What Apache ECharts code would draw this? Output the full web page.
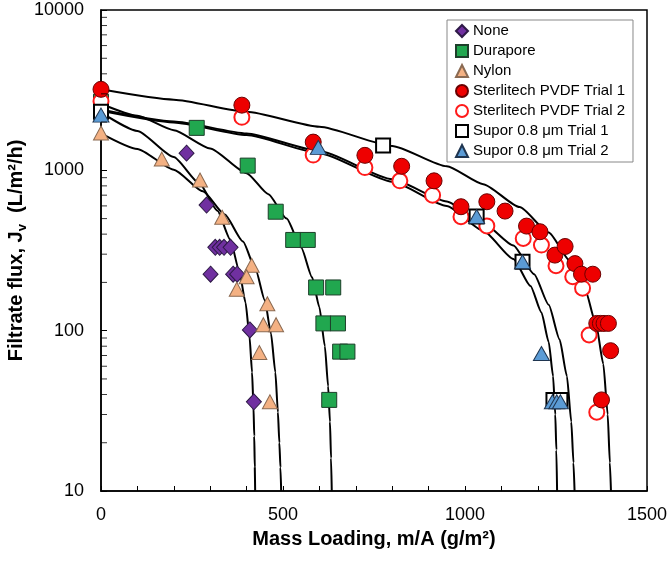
<!DOCTYPE html>
<html>
<head>
<meta charset="utf-8">
<script src="https://cdn.jsdelivr.net/npm/echarts@6/dist/echarts.min.js"></script>
<style>
html,body{margin:0;padding:0;background:#fff}
#chart{width:669px;height:566px}
</style>
</head>
<body>
<div id="chart"></div>
<script>
// measured points, [mass loading g/m2, flux L/m2/h]
var noneData = [[235,1280],[290,607],[314,331],[326,331],[338,331],[356,331],[301,225],[363,225],[374,225],[409,101],[420,36]];
var duraporeData = [[0,2680],[263,1840],[403,1070],[480,552],[528,368],[568,368],[591,186],[638,186],[611,111],[651,111],[657,74],[677,74],[627,37]];
var nylonData = [[0,1710],[167,1175],[272,870],[333,510],[414,256],[400,217],[373,181],[457,147],[446,109],[481,109],[435,73],[464,36]];
var pvdf1Data = [[0,3200],[387,2550],[583,1500],[725,1240],[826,1060],[915,860],[989,593],[1060,637],[1110,557],[1169,449],[1206,414],[1247,296],[1275,335],[1302,262],[1320,225],[1351,225],[1362,111],[1372,111],[1382,111],[1394,111],[1400,75],[1375,37]];
var pvdf2Data = [[0,2700],[387,2140],[583,1245],[725,1040],[821,860],[911,700],[989,514],[1060,450],[1160,376],[1210,342],[1250,254],[1296,217],[1323,184],[1341,94],[1362,31]];
var supor1Data = [[0,2320],[775,1430],[1032,515],[1158,269],[1243,37],[1262,37]];
var supor2Data = [[0,2210],[597,1390],[1032,515],[1158,269],[1210,72],[1240,36],[1252,36],[1262,36]];

// fitted model lines
var fitPvdf = [[0,3200],[200,2760],[400,2320],[600,1870],[800,1420],[950,1060],[1050,820],[1150,590],[1230,410],[1290,270],[1330,180],[1360,110],[1380,62],[1392,30],[1398,15],[1401,10]];
var fitSupor1 = [[0,2400],[200,2020],[400,1700],[600,1320],[800,880],[950,640],[1050,470],[1133,340],[1190,225],[1230,145],[1260,88],[1280,52],[1292,27],[1298,15],[1301,10]];
var fitSupor2 = [[0,2350],[200,1990],[400,1660],[600,1280],[800,850],[950,600],[1050,420],[1133,280],[1180,190],[1210,130],[1230,85],[1242,52],[1248,30],[1251,18],[1253,10]];
var fitDurapore = [[0,2600],[100,2190],[200,1780],[300,1370],[400,960],[460,710],[510,500],[550,330],[580,215],[600,140],[615,80],[624,45],[629,27],[632,16],[634,10]];
var fitNylon = [[0,1700],[100,1360],[200,1010],[280,740],[340,530],[390,360],[425,240],[450,155],[467,96],[479,55],[486,31],[490,20],[493,14],[495,10]];
var fitNone = [[0,2300],[100,1760],[200,1210],[270,830],[320,560],[355,370],[380,235],[397,150],[408,92],[415,55],[419,33],[421,22],[422.5,14],[423.5,10]];

var legendNames = ['None','Durapore','Nylon','Sterlitech PVDF Trial 1','Sterlitech PVDF Trial 2','Supor 0.8 μm Trial 1','Supor 0.8 μm Trial 2'];
var yMinorTicks = [20,30,40,50,60,70,80,90,200,300,400,500,600,700,800,900,2000,3000,4000,5000,6000,7000,8000,9000];

var font = 'Liberation Sans';

function scatterSeries(name, data, symbol, size, fill, border, bw, z){
    return {
        name: name,
        type: 'scatter',
        data: data,
        symbol: symbol,
        symbolSize: size,
        z: z,
        itemStyle: {color: fill, borderColor: border, borderWidth: bw, opacity: 1}
    };
}

function fitSeries(data){
    return {
        type: 'line',
        data: data,
        showSymbol: false,
        smooth: 0.2,
        smoothMonotone: 'x',
        silent: true,
        z: 1,
        lineStyle: {color: '#000', width: 2}
    };
}

// log-spaced minor ticks on the y axis (2..9 in each decade), drawn as short dashes
function minorTickSeries(){
    return {
        type: 'scatter',
        silent: true,
        clip: false,
        z: 10,
        data: yMinorTicks.map(function(v){ return [0, v]; }),
        symbol: 'rect',
        symbolSize: [6, 1],
        symbolOffset: [3, 0],
        itemStyle: {color: '#000'}
    };
}

function plain(v){
    return String(v);
}

var chart = echarts.init(document.getElementById('chart'));
var option = {
    animation: false,
    textStyle: {fontFamily: font, color: '#000'},
    grid: {left: 101, right: 22, top: 10, bottom: 75, outerBoundsMode: 'none',
           show: true, borderColor: '#000', borderWidth: 1.5},
    legend: {
        data: legendNames,
        orient: 'vertical',
        left: 447,
        top: 20,
        padding: [3, 8, 3, 8],
        itemWidth: 12,
        itemHeight: 12,
        itemGap: 4,
        borderColor: '#888',
        borderWidth: 1,
        backgroundColor: '#fff',
        textStyle: {fontSize: 15, lineHeight: 16, color: '#000', fontFamily: font}
    },
    xAxis: {
        type: 'value',
        min: 0,
        max: 1500,
        interval: 500,
        name: 'Mass Loading, m/A (g/m²)',
        nameLocation: 'middle',
        nameGap: 38,
        nameMoveOverlap: false,
        nameTextStyle: {fontSize: 20, fontWeight: 'bold', color: '#000', fontFamily: font},
        axisLine: {lineStyle: {color: '#000', width: 1.5}},
        axisTick: {inside: true, length: 5, lineStyle: {color: '#000'}},
        minorTick: {show: true, splitNumber: 5, length: 5, lineStyle: {color: '#000'}},
        axisLabel: {fontSize: 18, color: '#000', margin: 15, formatter: plain},
        splitLine: {show: false}
    },
    yAxis: {
        type: 'log',
        logBase: 10,
        min: 10,
        max: 10000,
        name: 'Filtrate flux, J{s|v}  (L/m²/h)',
        nameLocation: 'middle',
        nameGap: 72,
        nameMoveOverlap: false,
        nameTextStyle: {
            fontSize: 20, fontWeight: 'bold', color: '#000', fontFamily: font,
            rich: {s: {fontSize: 13, fontWeight: 'bold', fontFamily: font, padding: [12, 0, 0, 0]}}
        },
        axisLine: {lineStyle: {color: '#000', width: 1.5}},
        axisTick: {inside: true, length: 6, lineStyle: {color: '#000'}},
        axisLabel: {fontSize: 18, color: '#000', margin: 17, formatter: plain},
        splitLine: {show: false}
    },
    series: [
        fitSeries(fitPvdf),
        fitSeries(fitSupor1),
        fitSeries(fitSupor2),
        fitSeries(fitDurapore),
        fitSeries(fitNylon),
        fitSeries(fitNone),
        scatterSeries(legendNames[0], noneData, 'diamond', [15, 16], '#7030A0', '#2e1a47', 1, 3),
        scatterSeries(legendNames[1], duraporeData, 'rect', 15, '#21A74F', '#1d3f2a', 1, 3),
        scatterSeries(legendNames[2], nylonData, 'triangle', [15, 14], '#F4B183', '#8a6a52', 1, 3),
        scatterSeries(legendNames[3], pvdf1Data, 'circle', 16, '#EE0000', '#6a0000', 1, 4),
        scatterSeries(legendNames[4], pvdf2Data, 'circle', 15, '#fff', '#FF1A1A', 2, 3),
        scatterSeries(legendNames[5], supor1Data, 'rect', 14, '#fff', '#000', 2, 5),
        scatterSeries(legendNames[6], supor2Data, 'triangle', [16, 14], '#5B9BD5', '#1f3550', 1, 5),
        minorTickSeries()
    ]
};
chart.setOption(option);
</script>
</body>
</html>
